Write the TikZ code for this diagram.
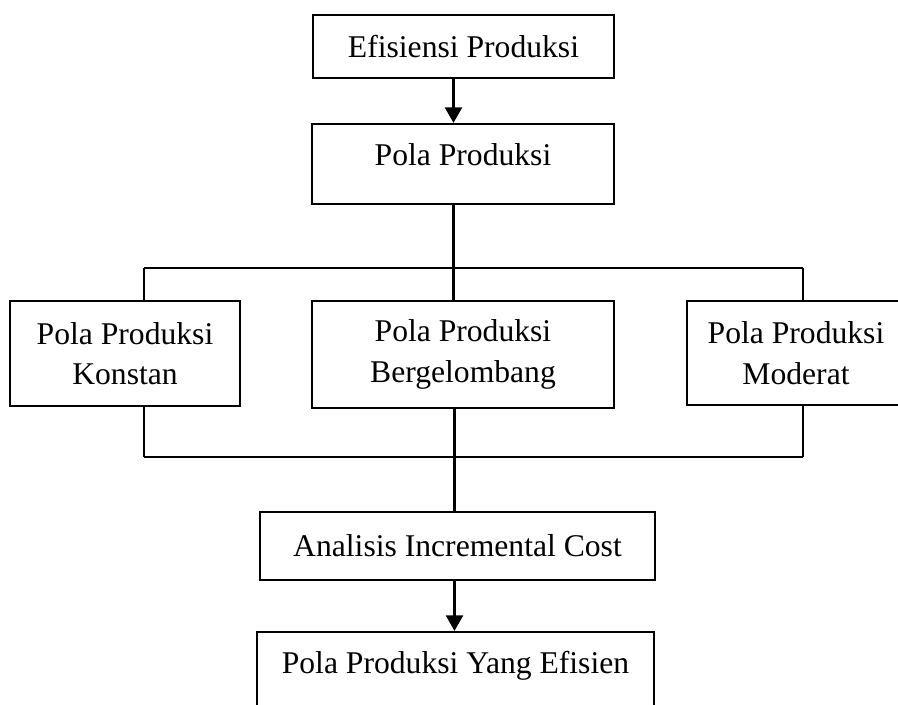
\documentclass[tikz,border=0pt]{standalone}
\usepackage{fontspec}
\setmainfont{Liberation Serif}
\usepackage{tikz}
\usetikzlibrary{arrows.meta, positioning}

\begin{document}
\begin{tikzpicture}[
    box/.style={rectangle, draw=black, line width=1.3pt, fill=white,
                align=center, inner sep=2pt,
                font=\fontsize{18}{23}\selectfont},
    %% text sits in the upper half of these boxes
    tallbox/.style={box, inner ysep=0pt, text height=0.82cm, text depth=0.78cm},
    link/.style={line width=1.3pt, black},
    arr/.style={-{Triangle[width=0.34cm, length=0.31cm]}, line width=1.3pt, black},
]
  \useasboundingbox (0,0) rectangle (17.96,-14.08);

  %% ---- top of the chart ----
  \node[box, minimum width=6.02cm, minimum height=1.26cm] (eff) at (9.27,-0.93) {Efisiensi Produksi};
  \node[tallbox, minimum width=6.04cm] (pola) at (9.26,-3.28) {Pola Produksi};

  %% ---- three patterns ----
  \node[box, minimum width=4.6cm,  minimum height=2.1cm]  (konstan)   at (2.5,-7.07)  {Pola Produksi\\Konstan};
  \node[box, minimum width=6.04cm, minimum height=2.14cm] (gelombang) at (9.26,-7.09) {Pola Produksi\\Bergelombang};
  \node[box, minimum width=4.36cm, minimum height=2.08cm] (moderat)   at (15.92,-7.06) {Pola Produksi\\Moderat};

  %% ---- bottom of the chart ----
  \node[box, minimum width=7.9cm, minimum height=1.36cm] (incr) at (9.15,-10.92) {Analisis Incremental Cost};
  \node[tallbox, minimum width=7.94cm] (efisien) at (9.11,-13.44) {Pola Produksi Yang Efisien};

  %% ---- bus lines ----
  \coordinate (tl) at (2.88,-5.36);
  \coordinate (tj) at (9.07,-5.36);
  \coordinate (tr) at (16.06,-5.36);
  \coordinate (bl) at (2.88,-9.14);
  \coordinate (bj) at (9.09,-9.14);
  \coordinate (br) at (16.06,-9.14);

  \draw[arr]  (tj |- eff.south) -- (tj |- pola.north);
  \draw[link] (tj |- pola.south) -- (tj);
  \draw[link] (tl) -- (tr);
  \draw[link] (tl) -- (tl |- konstan.north);
  \draw[link] (tj) -- (tj |- gelombang.north);
  \draw[link] (tr) -- (tr |- moderat.north);

  \draw[link] (bl) -- (br);
  \draw[link] (bl) -- (bl |- konstan.south);
  \draw[link] (bj) -- (bj |- gelombang.south);
  \draw[link] (br) -- (br |- moderat.south);
  \draw[link] (bj) -- (bj |- incr.north);
  \draw[arr]  (bj |- incr.south) -- (bj |- efisien.north);

\end{tikzpicture}
\end{document}
